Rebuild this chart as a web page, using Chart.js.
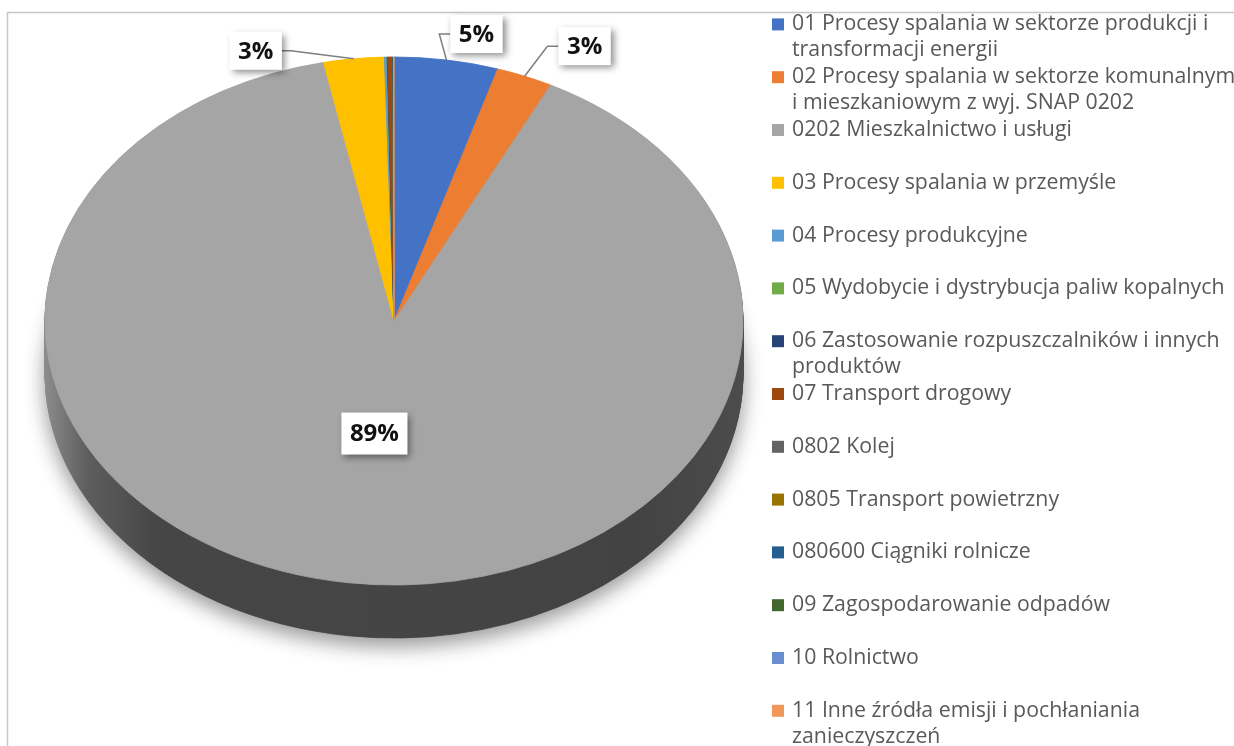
<!DOCTYPE html>
<html>
<head>
<meta charset="utf-8">
<script src="https://cdn.jsdelivr.net/npm/chart.js@4.4.1/dist/chart.umd.min.js"></script>
<style>
    html, body { margin: 0; padding: 0; background: #fff; overflow: hidden; }
    #wrap { position: relative; width: 1234px; height: 746px; }
</style>
</head>
<body>
<div id="wrap"><canvas id="pieChart" width="1234" height="746"></canvas></div>
<script>
// emission sources (SNAP) and their share of the total
var categories = [
    ['01 Procesy spalania w sektorze produkcji i', 'transformacji energii'],
    ['02 Procesy spalania w sektorze komunalnym', 'i mieszkaniowym z wyj. SNAP 0202'],
    '0202 Mieszkalnictwo i usługi',
    '03 Procesy spalania w przemyśle',
    '04 Procesy produkcyjne',
    '05 Wydobycie i dystrybucja paliw kopalnych',
    ['06 Zastosowanie rozpuszczalników i innych', 'produktów'],
    '07 Transport drogowy',
    '0802 Kolej',
    '0805 Transport powietrzny',
    '080600 Ciągniki rolnicze',
    '09 Zagospodarowanie odpadów',
    '10 Rolnictwo',
    ['11 Inne źródła emisji i pochłaniania', 'zanieczyszczeń']
];
var shares = [4.8, 2.6, 89.3, 2.8, 0.12, 0.01, 0.02, 0.2, 0.02, 0.01, 0.03, 0.01, 0.01, 0.01];
var sliceColors = ['#4472C4', '#ED7D31', '#A5A5A5', '#FFC000', '#5B9BD5', '#70AD47', '#264478',
    '#9E480E', '#636363', '#997300', '#255E91', '#43682B', '#698ED0', '#F1975A'];

// where the percentage boxes sit (offset from the slice edge, or inside the slice)
var labelPlacement = [
    { dx: 30, dy: -26 },
    { dx: 60, dy: -30 },
    { inside: 0.43 },
    { dx: -98, dy: -8 }
];

function toScreen(arc, x, y, tilt) {
    return { x: x, y: arc.y + (y - arc.y) * tilt };
}

// squash the pie into an ellipse and extrude it downwards
var tiltPlugin = {
    id: 'tilt3d',
    beforeDatasetsDraw: function(chart, args, opts) {
        var ctx = chart.ctx;
        var arcs = chart.getDatasetMeta(0).data;
        var cx = arcs[0].x, cy = arcs[0].y, r = arcs[0].outerRadius;
        ctx.save();
        ctx.translate(0, cy);
        ctx.scale(1, opts.tilt);
        ctx.translate(0, -cy);

        var side = ctx.createLinearGradient(cx - r, 0, cx + r, 0);
        side.addColorStop(0, '#8c8c8c');
        side.addColorStop(0.06, '#5e5e5e');
        side.addColorStop(0.16, '#464646');
        side.addColorStop(0.85, '#434343');
        side.addColorStop(1, '#4c4c4c');

        for (var d = opts.depth; d >= 1; d--) {
            ctx.save();
            ctx.translate(0, d / opts.tilt);
            if (d === opts.depth) {
                ctx.shadowColor = 'rgba(0,0,0,0.4)';
                ctx.shadowBlur = 20;
                ctx.shadowOffsetY = 8;
            }
            arcs.forEach(function(arc) {
                var o = arc.options;
                arc.options = Object.assign({}, o, { backgroundColor: side, borderColor: side });
                arc.draw(ctx);
                arc.options = o;
            });
            ctx.restore();
        }
    },
    afterDatasetsDraw: function(chart, args, opts) {
        var ctx = chart.ctx;
        ctx.restore();

        var arcs = chart.getDatasetMeta(0).data;
        var values = chart.data.datasets[0].data;
        var total = values.reduce(function(a, b) { return a + b; }, 0);
        var place = opts.labels;

        ctx.save();
        ctx.font = 'bold 24px "Open Sans"';
        ctx.textAlign = 'center';
        ctx.textBaseline = 'middle';
        arcs.forEach(function(arc, i) {
            var p = place[i];
            if (!p) return;
            var mid = (arc.startAngle + arc.endAngle) / 2;
            var text = Math.round(values[i] / total * 100) + '%';
            var tw = ctx.measureText(text).width;
            var w = tw + 17, h = p.inside ? 42 : 38;
            var bx, by;
            if (p.inside) {
                var pin = toScreen(arc, arc.x + Math.cos(mid) * arc.outerRadius * p.inside,
                    arc.y + Math.sin(mid) * arc.outerRadius * p.inside, opts.tilt);
                bx = pin.x; by = pin.y;
            } else {
                var edge = toScreen(arc, arc.x + Math.cos(mid) * arc.outerRadius,
                    arc.y + Math.sin(mid) * arc.outerRadius, opts.tilt);
                bx = edge.x + p.dx; by = edge.y + p.dy;
                // leader line: slice edge -> elbow -> box side
                var right = p.dx > 0;
                var sideX = right ? bx - w / 2 : bx + w / 2;
                var elbowX = right ? sideX - 11 : sideX + 9;
                ctx.beginPath();
                ctx.moveTo(edge.x, edge.y);
                ctx.lineTo(elbowX, by);
                ctx.lineTo(sideX, by);
                ctx.strokeStyle = '#7f7f7f';
                ctx.lineWidth = 1.5;
                ctx.stroke();
            }
            ctx.save();
            ctx.shadowColor = 'rgba(0,0,0,0.45)';
            ctx.shadowBlur = 7;
            ctx.shadowOffsetX = 3;
            ctx.shadowOffsetY = 3;
            ctx.fillStyle = '#ffffff';
            ctx.fillRect(bx - w / 2, by - h / 2, w, h);
            ctx.restore();
            ctx.fillStyle = '#111111';
            ctx.fillText(text, bx, by + 1);
        });
        ctx.restore();
    }
};

// legend column on the right, one slot per category
var legendPlugin = {
    id: 'sideLegend',
    afterDraw: function(chart, args, opts) {
        var ctx = chart.ctx;
        var labels = chart.data.labels;
        var colors = chart.data.datasets[0].backgroundColor;
        ctx.save();
        ctx.font = opts.font;
        ctx.textBaseline = 'middle';
        labels.forEach(function(lbl, i) {
            var y = opts.top + i * opts.step;
            ctx.fillStyle = colors[i];
            ctx.fillRect(opts.x, y - 6, 12, 12);
            ctx.fillStyle = opts.color;
            [].concat(lbl).forEach(function(line, j) {
                ctx.fillText(line, opts.x + 20, y + j * opts.lineHeight);
            });
        });
        ctx.restore();
    }
};

// thin frame of the chart box
var framePlugin = {
    id: 'frame',
    beforeDraw: function(chart) {
        var ctx = chart.ctx;
        ctx.save();
        ctx.strokeStyle = '#c6c6c6';
        ctx.lineWidth = 1.5;
        ctx.beginPath();
        ctx.moveTo(7.5, chart.height);
        ctx.lineTo(7.5, 12.5);
        ctx.lineTo(chart.width, 12.5);
        ctx.stroke();
        ctx.restore();
    }
};

var pieChart = new Chart(document.getElementById('pieChart'), {
    type: 'pie',
    data: {
        labels: categories,
        datasets: [{
            data: shares,
            backgroundColor: sliceColors,
            borderColor: sliceColors,
            borderWidth: 1,
            clip: false
        }]
    },
    options: {
        responsive: false,
        animation: false,
        events: [],
        radius: 349,
        layout: { padding: { left: 0, top: 0, right: 446, bottom: 104 } },
        plugins: {
            legend: { display: false },
            tooltip: { enabled: false },
            tilt3d: { tilt: 264 / 349, depth: 53, labels: labelPlacement },
            sideLegend: {
                x: 772, top: 24.4, step: 52.8, lineHeight: 26,
                font: '21.3px "Open Sans"', color: '#595959'
            }
        }
    },
    plugins: [framePlugin, tiltPlugin, legendPlugin]
});
</script>
</body>
</html>
